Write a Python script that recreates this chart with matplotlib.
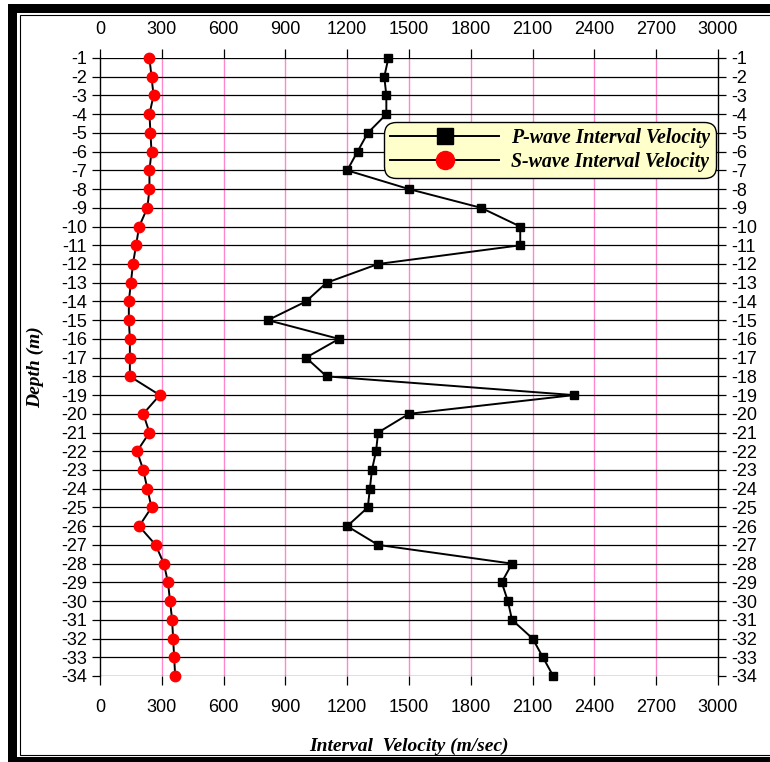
import matplotlib.pyplot as plt
import matplotlib.transforms as mtransforms
from matplotlib.lines import Line2D
from matplotlib.patches import Rectangle

# depth (m) and interval velocities (m/sec)
depth = [-1, -2, -3, -4, -5, -6, -7, -8, -9, -10, -11, -12, -13, -14, -15, -16, -17,
         -18, -19, -20, -21, -22, -23, -24, -25, -26, -27, -28, -29, -30, -31, -32, -33, -34]
p_wave = [1400, 1380, 1390, 1390, 1300, 1250, 1200, 1500, 1850, 2040, 2040, 1350, 1100,
          1000, 815, 1160, 1000, 1100, 2300, 1500, 1350, 1340, 1320, 1310, 1300, 1200,
          1350, 2000, 1950, 1980, 2000, 2100, 2150, 2200]
s_wave = [240, 250, 260, 240, 245, 250, 240, 240, 230, 190, 175, 160, 150, 140, 140, 145,
          145, 145, 290, 210, 240, 180, 210, 230, 250, 190, 270, 310, 330, 340, 350, 355,
          360, 365]
x_ticks = list(range(0, 3001, 300))

W, H = 770, 762
fig = plt.figure(figsize=(W / 100, H / 100), dpi=100)

def px_rect(x0, y0, x1, y1, **kw):
    # rectangle given in pixel coords from the top-left corner
    r = Rectangle((x0 / W, 1 - y1 / H), (x1 - x0) / W, (y1 - y0) / H,
                  transform=fig.transFigure, zorder=-10, **kw)
    fig.add_artist(r)

# double border around the chart
px_rect(8, 4, 790, 790, facecolor='black', edgecolor='none')
px_rect(17, 13, 790, 757, facecolor='white', edgecolor='none')
px_rect(19.5, 14.5, 790, 754.5, facecolor='white', edgecolor='black', lw=0.8)

ax = fig.add_axes([100 / W, 1 - 676 / H, 618 / W, 618 / H])

ax.plot(p_wave, depth, color='black', lw=1.4, marker='s', ms=6, zorder=4, clip_on=False)
ax.plot(s_wave, depth, color='black', lw=1.4, marker='o', ms=7.5,
        mfc='red', mec='red', zorder=4, clip_on=False)

ax.set_xlim(0, 3000)
ax.set_ylim(-34, -1)
ax.set_xticks(x_ticks)
ax.set_yticks(depth)
ax.set_yticklabels([str(d) for d in depth])

for x in x_ticks[1:-1]:
    ax.axvline(x, color='#ff88cc', lw=1.0, zorder=1)
for d in depth:
    ax.axhline(d, color='black', lw=0.9, zorder=2)

for s in ['top', 'bottom']:
    ax.spines[s].set_visible(False)
for s in ['left', 'right']:
    ax.spines[s].set_linewidth(1.0)
    ax.spines[s].set_zorder(3)

ax.tick_params(axis='x', direction='out', length=6.5, width=0.9, top=True,
               labeltop=True, pad=10)
ax.tick_params(axis='y', direction='out', length=6, width=0.9, right=True,
               labelright=True, pad=3.5)
for lab in ax.get_xticklabels() + ax.get_yticklabels():
    lab.set_fontfamily('Liberation Sans')
    lab.set_fontsize(13)
# top labels sit a little closer to the ticks than the bottom ones
for tick in ax.xaxis.get_major_ticks():
    tick.label2.set_transform(mtransforms.offset_copy(tick.label2.get_transform(),
                                                      fig=fig, y=-3, units='dots'))

label_font = dict(family='Liberation Serif', weight='bold', style='italic', size=14)
ax.set_xlabel('Interval  Velocity (m/sec)', labelpad=16, **label_font)
ax.set_ylabel('Depth (m)', labelpad=12, **label_font)

handles = [
    Line2D([], [], color='black', lw=1.4, marker='s', ms=12),
    Line2D([], [], color='black', lw=1.4, marker='o', ms=13, mfc='red', mec='red'),
]
leg = ax.legend(handles, ['P-wave Interval Velocity', 'S-wave Interval Velocity'],
                loc='upper right', bbox_to_anchor=(0.997, 0.896), borderaxespad=0,
                handlelength=5.5, handletextpad=0.6, labelspacing=0.2,
                borderpad=0.3, fancybox=True, framealpha=1,
                prop=dict(family='Liberation Serif', weight='bold', style='italic', size=14.3))
frame = leg.get_frame()
frame.set_facecolor('#ffffcc')
frame.set_edgecolor('black')
frame.set_linewidth(1.0)
frame.set_boxstyle('round,pad=0,rounding_size=0.6')
leg.set_zorder(6)

fig.savefig('out.png', dpi=100)
